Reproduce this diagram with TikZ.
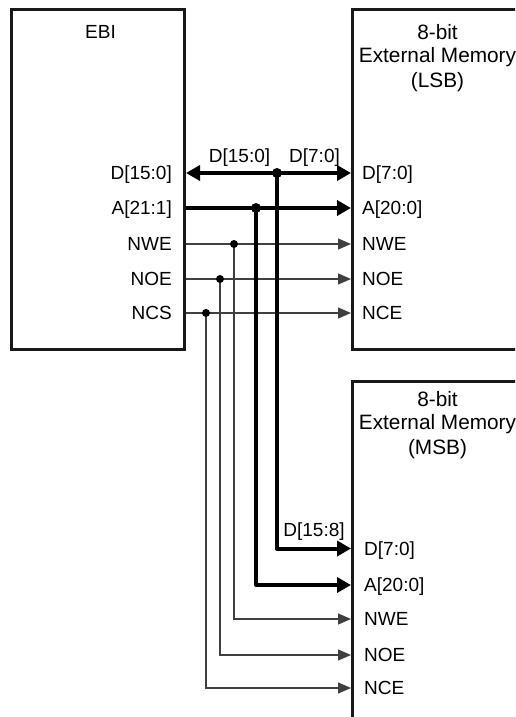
\documentclass[tikz,border=0pt]{standalone}
\usepackage{fontspec}
\setmainfont{Liberation Sans}
\usetikzlibrary{arrows.meta}
\begin{document}
\begin{tikzpicture}[x=1pt,y=-1pt,
  blk/.style={draw=black!90, line width=3pt, inner sep=0pt, anchor=north west},
  pin/.style={font=\fontsize{19}{22}\selectfont, inner sep=0pt, text height=13.6pt, text depth=0pt},
  ttl/.style={font=\fontsize{20.8}{24}\selectfont, inner sep=0pt, text height=14.9pt, text depth=0pt},
  sig/.style={line width=1.3pt, draw=black!75},
  bus/.style={line width=4pt, draw=black, line join=round},
  tip/.style={-{Triangle[length=13pt,width=11pt]}},
  bustip/.style={-{Triangle[length=14pt,width=15pt]}},
  bothtip/.style={{Triangle[length=14pt,width=15pt]}-{Triangle[length=14pt,width=15pt]}},
  jdot/.style={circle, fill=black, inner sep=0pt, minimum size=#1},
]
\path[use as bounding box, fill=white] (0,0) rectangle (515,717);
\clip (0,0) rectangle (515,717);

% blocks
\node[blk, minimum width=173pt, minimum height=340pt] (ebi) at (10,8) {};
\node[blk, minimum width=180pt, minimum height=340pt] (lsb) at (351,8) {};
\node[blk, minimum width=180pt, minimum height=337pt] (msb) at (351,380) {};

% titles
\node[pin] (ebit) at (100.5,32) {EBI};
\node[ttl] (lsbt1) at (437.5,32) {8-bit};
\node[ttl] (lsbt2) at (437.5,55) {External Memory};
\node[ttl] (lsbt3) at (437.5,80) {(LSB)};
\node[ttl] (msbt1) at (437.5,399) {8-bit};
\node[ttl] (msbt2) at (437.5,422) {External Memory};
\node[ttl] (msbt3) at (437.5,447) {(MSB)};

% EBI pins
\node[pin, anchor=east] (eD)  at (172,173) {D[15:0]};
\node[pin, anchor=east] (eA)  at (172,208) {A[21:1]};
\node[pin, anchor=east] (eWE) at (172,244) {NWE};
\node[pin, anchor=east] (eOE) at (172,279) {NOE};
\node[pin, anchor=east] (eCS) at (172,313) {NCS};

% LSB pins
\node[pin, anchor=west] (lD)  at (362,173) {D[7:0]};
\node[pin, anchor=west] (lA)  at (362,208) {A[20:0]};
\node[pin, anchor=west] (lWE) at (362,244) {NWE};
\node[pin, anchor=west] (lOE) at (362,279) {NOE};
\node[pin, anchor=west] (lCE) at (362,313) {NCE};

% MSB pins
\node[pin, anchor=west] (mD)  at (364,548.5) {D[7:0]};
\node[pin, anchor=west] (mA)  at (364,585) {A[20:0]};
\node[pin, anchor=west] (mWE) at (364,619) {NWE};
\node[pin, anchor=west] (mOE) at (364,655) {NOE};
\node[pin, anchor=west] (mCE) at (364,688) {NCE};

% bus labels
\node[pin] (bl1) at (239.5,156) {D[15:0]};
\node[pin] (bl2) at (314.5,156) {D[7:0]};
\node[pin] (bl3) at (314,530) {D[15:8]};

% junction points
\coordinate (jD)  at (277,173);
\coordinate (jA)  at (256,208);
\coordinate (jWE) at (234,244);
\coordinate (jOE) at (220,279);
\coordinate (jCS) at (206,313);

% thin control signals
\draw[sig, tip] (ebi.east |- eWE) -- (lsb.west |- lWE);
\draw[sig, tip] (ebi.east |- eOE) -- (lsb.west |- lOE);
\draw[sig, tip] (ebi.east |- eCS) -- (lsb.west |- lCE);
\draw[sig, tip] (jWE) -- (jWE |- mWE) -- (msb.west |- mWE);
\draw[sig, tip] (jOE) -- (jOE |- mOE) -- (msb.west |- mOE);
\draw[sig, tip] (jCS) -- (jCS |- mCE) -- (msb.west |- mCE);

% buses
\draw[bus, bothtip] (ebi.east |- eD) -- (lsb.west |- lD);
\draw[bus, bustip] (ebi.east |- eA) -- (lsb.west |- lA);
\draw[bus, bustip] (jD) -- (jD |- mD) -- (msb.west |- mD);
\draw[bus, bustip] (jA) -- (jA |- mA) -- (msb.west |- mA);

% dots
\node[jdot=10pt] (dD) at (jD) {};
\node[jdot=10pt] (dA) at (jA) {};
\node[jdot=8pt] (dWE) at (jWE) {};
\node[jdot=8pt] (dOE) at (jOE) {};
\node[jdot=8pt] (dCS) at (jCS) {};
\end{tikzpicture}
\end{document}
